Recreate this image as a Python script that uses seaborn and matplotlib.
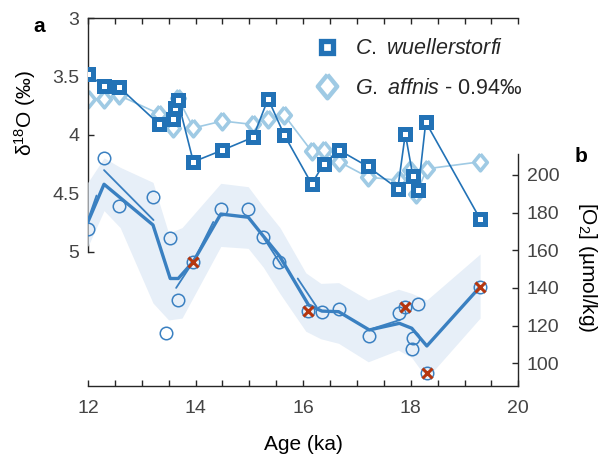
import numpy as np
import pandas as pd
import matplotlib
matplotlib.use("Agg")
import matplotlib.pyplot as plt
from matplotlib.lines import Line2D
from matplotlib.ticker import MultipleLocator
import seaborn as sns

# ---------------- data ----------------
# C. wuellerstorfi d18O (left axis, reversed)
cw_age = [12.0, 12.3, 12.58, 13.33, 13.58, 13.61, 13.67, 13.96, 14.5, 15.07, 15.35,
          15.65, 16.16, 16.38, 16.67, 17.2, 17.76, 17.9, 18.04, 18.14, 18.28, 19.29]
cw_d18o = [3.48, 3.58, 3.59, 3.91, 3.86, 3.77, 3.70, 4.23, 4.13, 4.02, 3.69,
           4.00, 4.42, 4.25, 4.13, 4.27, 4.46, 3.99, 4.35, 4.47, 3.89, 4.72]

# G. affinis d18O - 0.94 permil
ga_age = [12.0, 12.3, 12.58, 13.33, 13.58, 13.67, 13.96, 14.5, 15.07, 15.35, 15.65,
          16.16, 16.38, 16.67, 17.2, 17.78, 17.99, 18.1, 18.3, 19.29]
ga_d18o = [3.69, 3.69, 3.66, 3.82, 3.94, 3.68, 3.94, 3.88, 3.91, 3.86, 3.83,
           4.14, 4.13, 4.23, 4.36, 4.39, 4.30, 4.51, 4.29, 4.23]

# [O2] estimates (right axis)
o2_age = [12.0, 12.3, 12.58, 13.21, 13.46, 13.53, 13.67, 13.96, 14.47, 14.98, 15.26,
          15.56, 16.1, 16.35, 16.66, 17.23, 17.79, 17.9, 18.02, 18.05, 18.14, 18.3, 19.29]
o2_val = [171.0, 209.0, 183.4, 188.4, 116.2, 166.3, 133.6, 153.9, 181.9, 181.9, 167.2,
          153.9, 127.7, 127.4, 128.8, 114.5, 126.5, 130.0, 107.6, 113.3, 131.5, 94.7, 140.6]

# flagged samples (red crosses)
flag_age = [13.96, 16.1, 17.9, 18.3, 19.29]
flag_o2 = [153.9, 127.7, 130.0, 94.7, 140.6]

# mean [O2] curve
mean_age = [12.0, 12.3, 13.21, 13.53, 13.68, 13.96, 14.47, 14.98, 15.26, 15.56,
            16.1, 16.35, 16.66, 17.23, 17.79, 18.02, 18.3, 19.29]
mean_o2 = [175.0, 195.0, 173.4, 145.0, 145.0, 154.0, 179.2, 177.5, 167.5, 157.0,
           131.0, 127.7, 127.4, 117.7, 121.2, 118.6, 109.2, 140.6]

# secondary (segmented) [O2] curve
alt_age = [12.0, 12.16, 12.3, 13.22, 13.64, 13.96, 14.33, 15.28, 15.62, 15.9, 16.25, 17.3, 17.8]
alt_o2 = [176.0, 189.0, 202.5, 176.0, 140.0, 154.0, 175.0, 166.0, 151.0, 145.0, 130.0, 118.5, 123.0]
alt_seg = [0, 0, 1, 1, 2, 2, 2, 3, 3, 4, 4, 5, 5]

# uncertainty envelope
band_age = [12.0, 12.3, 12.6, 13.21, 13.5, 13.75, 14.47, 14.98, 15.26, 15.57,
            16.05, 16.33, 16.66, 17.21, 17.77, 18.02, 18.3, 19.29]
band_hi = [196, 209, 204, 196, 169, 172, 195.5, 193.7, 183, 172,
           148, 142.4, 142.8, 133.6, 139.3, 137.1, 133.6, 158]
band_lo = [162, 181, 172, 132, 123, 124, 162, 161, 151, 137,
           117, 113, 110.6, 100.8, 107, 103, 92, 124]

# ---------------- style ----------------
sns.set_theme(style="white")
plt.rcParams["font.family"] = ["Liberation Sans", "DejaVu Sans"]
plt.rcParams["mathtext.fontset"] = "custom"
plt.rcParams["mathtext.rm"] = "Liberation Sans"
plt.rcParams["mathtext.it"] = "Liberation Sans:italic"
plt.rcParams["mathtext.bf"] = "Liberation Sans:bold"

c_dark = "#2272b6"
c_light = "#9fcae4"
c_o2 = "#3a80c1"
c_band = "#e7eff8"
c_red = "#b5360f"
c_spine = "#262626"
c_tick = "#444444"

W, H = 604, 459
fig = plt.figure(figsize=(W / 100, H / 100), dpi=100)

def rect(x0, y0, x1, y1):
    return [x0 / W, 1 - y1 / H, (x1 - x0) / W, (y1 - y0) / H]

ax = fig.add_axes(rect(87.9, 18.4, 518.3, 386))
ax2 = ax.twinx()

diamond = [(0, 1), (0.82, 0), (0, -1), (-0.82, 0), (0, 1)]

# ---- O2 panel (b) on twin axis ----
ax2.fill_between(band_age, band_lo, band_hi, color=c_band, lw=0, zorder=0)
sns.lineplot(x=mean_age, y=mean_o2, ax=ax2, color=c_o2, lw=2.4,
             sort=False, estimator=None, zorder=2)
alt_df = pd.DataFrame({"age": alt_age, "o2": alt_o2, "seg": alt_seg})
sns.lineplot(data=alt_df, x="age", y="o2", units="seg", estimator=None, sort=False,
             ax=ax2, color=c_o2, lw=1.3, zorder=2)
sns.lineplot(x=o2_age, y=o2_val, ax=ax2, color=c_o2, linestyle="none", marker="o",
             ms=9, mfc="none", mec=c_o2, mew=1.1, sort=False, estimator=None, zorder=3)
sns.lineplot(x=flag_age, y=flag_o2, ax=ax2, color=c_red, linestyle="none", marker="x",
             ms=7.5, mec=c_red, mew=2.2, sort=False, estimator=None, zorder=4)

# ---- d18O panel (a) ----
sns.lineplot(x=ga_age, y=ga_d18o, ax=ax, color=c_light, lw=1.2, marker=diamond,
             ms=12, mfc="white", mec=c_light, mew=2.6, sort=False, estimator=None, zorder=2)
sns.lineplot(x=cw_age, y=cw_d18o, ax=ax, color=c_dark, lw=1.2, marker="s",
             ms=6.5, mfc="white", mec=c_dark, mew=3.6, sort=False, estimator=None, zorder=3)

# ---------------- axes ----------------
ax.set_xlim(12, 20)
ax.set_ylim(6.153, 3)
ax2.set_ylim(87.96, 283)
ax.set_xlabel("")
ax.set_ylabel("")
ax2.set_xlabel("")
ax2.set_ylabel("")

ax.set_xticks([12, 14, 16, 18, 20])
ax.xaxis.set_minor_locator(MultipleLocator(0.5))
ax.set_yticks([3, 3.5, 4, 4.5, 5])
ax.set_yticklabels(["3", "3.5", "4", "4.5", "5"])
ax2.set_yticks([100, 120, 140, 160, 180, 200])

for s in ax.spines.values():
    s.set_color(c_spine)
    s.set_linewidth(1.0)
ax.spines["right"].set_visible(False)
ax.spines["left"].set_bounds(5, 3)
for k, s in ax2.spines.items():
    if k != "right":
        s.set_visible(False)
ax2.spines["right"].set_color(c_spine)
ax2.spines["right"].set_linewidth(1.0)
ax2.spines["right"].set_bounds(87.96, 211)

ax.xaxis.set_ticks_position("both")
ax.yaxis.set_ticks_position("left")
ax.tick_params(axis="x", which="both", direction="in", length=4, width=1.0,
               color=c_spine, top=True, bottom=True, labeltop=False,
               labelsize=14, labelcolor=c_tick, pad=10)
ax.tick_params(axis="y", which="both", direction="in", length=4, width=1.0,
               color=c_spine, labelsize=14, labelcolor=c_tick, pad=6)
ax2.tick_params(axis="y", which="both", direction="in", length=4, width=1.0,
                color=c_spine, labelsize=14, labelcolor=c_tick, pad=6,
                right=True, left=False)
ax.set_facecolor("white")
ax2.patch.set_visible(False)

# legend
handles = [
    Line2D([], [], ls="none", marker="s", ms=9, mfc="white", mec=c_dark, mew=3.8),
    Line2D([], [], ls="none", marker=diamond, ms=17, mfc="white", mec=c_light, mew=3.2),
]
labels = [r"$\it{C.\ wuellerstorfi}$", r"$\it{G.\ affnis}$ - 0.94‰"]
ax.legend(handles, labels, loc="upper left",
          bbox_to_anchor=(314.1 / W, 1 - 38.5 / H), bbox_transform=fig.transFigure,
          frameon=False, fontsize=15.5, handlelength=1.2, handletextpad=0.7,
          labelspacing=0.85, borderpad=0, borderaxespad=0)

# text labels
fig.text(25 / W, 1 - 112.5 / H, r"δ$^{18}$O (‰)", rotation=90, ha="center",
         va="center", fontsize=15, color="black")
fig.text(588 / W, 1 - 267.5 / H, r"[O$_2$] (µmol/kg)", rotation=270, ha="center",
         va="center", fontsize=15, color="black")
fig.text(303 / W, 1 - 444 / H, "Age (ka)", ha="center", va="center",
         fontsize=15, color="black")
fig.text(39 / W, 1 - 26 / H, "a", ha="center", va="center", fontsize=15,
         fontweight="bold", color="black")
fig.text(581 / W, 1 - 156 / H, "b", ha="center", va="center", fontsize=15,
         fontweight="bold", color="black")

fig.savefig("out.png", dpi=100)
